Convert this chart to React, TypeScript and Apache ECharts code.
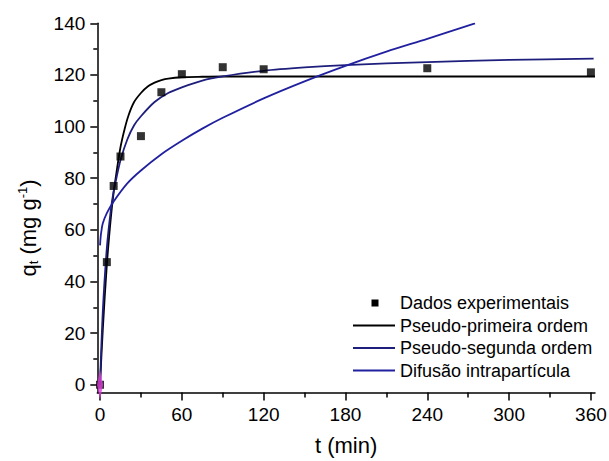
import React, { useEffect, useRef } from "react";
import * as echarts from "echarts";

// Experimental data (t in min, q in mg/g)
const expT = [0, 5, 10, 15, 30, 45, 60, 90, 120, 240, 360];
const expQ = [0, 47.5, 77, 88.4, 96.3, 113.3, 120.3, 123, 122.2, 122.6, 121];

// Pseudo-first order curve
const pfoT = [0, 2, 5, 8, 10, 12, 15, 18, 21, 25, 30, 35, 40, 45, 50, 60, 75, 90, 120, 240, 363];
const pfoQ = [0, 21, 46.5, 65, 74.5, 82, 92, 99, 104.5, 109.5, 113, 115.5, 117, 118, 118.6, 119.1, 119.3, 119.4, 119.4, 119.4, 119.4];

// Pseudo-second order curve
const psoT = [0, 2, 5, 8, 10, 12, 15, 20, 25, 30, 40, 50, 60, 75, 90, 120, 150, 180, 240, 300, 362];
const psoQ = [0, 28, 53, 68, 75, 80, 87, 95, 100.5, 104, 109.5, 113, 115.2, 117.8, 119.4, 121.6, 122.9, 123.8, 125, 125.8, 126.3];

// Intraparticle diffusion curve
const difT = [0, 0.5, 1, 2, 5, 10, 20, 30, 45, 60, 75, 90, 120, 150, 180, 210, 240, 275];
const difQ = [54, 57.5, 59.5, 62.5, 66.5, 71, 78, 83, 89.3, 94.5, 99.2, 103.4, 110.9, 117.5, 123.5, 129, 134, 140];

// Extra marker at origin
const originT = [0];
const originQ = [0];

// Axis ticks
const xMajor = [0, 60, 120, 180, 240, 300, 360];
const xMinor = [30, 90, 150, 210, 270, 330];
const yMajor = [0, 20, 40, 60, 80, 100, 120, 140];
const yMinor = [10, 30, 50, 70, 90, 110, 130];

const legendNames = [
  "Dados experimentais",
  "Pseudo-primeira ordem",
  "Pseudo-segunda ordem",
  "Difusão intrapartícula",
];

const FONT = "'Liberation Sans', Arial, Helvetica, sans-serif";
const C_BLACK = "#000000";
const C_PSO = "#1e1e7c";
const C_DIF = "#2121a0";

const zip = (a: number[], b: number[]) => a.map((v, i) => [v, b[i]]);

export default function App() {
  const ref = useRef<HTMLDivElement>(null);
  useEffect(() => {
    if (!ref.current) return;
    const chart = echarts.init(ref.current, undefined, { renderer: "svg" });
    const lx0 = 353, lx1 = 395, tx = 400;
    const rows = [303, 325.5, 348, 370.5];
    const legendColors = [C_BLACK, C_BLACK, C_PSO, C_DIF];
    const graphic: any[] = [];
    graphic.push({
      type: "rect",
      shape: { x: 375 - 3.5, y: rows[0] - 3.5, width: 7, height: 7 },
      style: { fill: C_BLACK },
    });
    for (let i = 1; i < 4; i++) {
      graphic.push({
        type: "line",
        shape: { x1: lx0, y1: rows[i], x2: lx1, y2: rows[i] },
        style: { stroke: legendColors[i], lineWidth: 1.8 },
      });
    }
    legendNames.forEach((n, i) => {
      graphic.push({
        type: "text",
        x: tx,
        y: rows[i],
        style: {
          text: n,
          fill: "#000",
          fontSize: 18,
          fontFamily: FONT,
          verticalAlign: "middle",
          align: "left",
        },
      });
    });
    graphic.push({
      type: "text",
      x: 28,
      y: 228,
      rotation: Math.PI / 2,
      style: {
        text: "{n|q}{sub|t}{n| (mg g}{sup|-1}{n|)}",
        align: "center",
        verticalAlign: "middle",
        fill: "#000",
        fontFamily: FONT,
        fontSize: 22,
        rich: {
          n: { fontSize: 22, fontFamily: FONT, lineHeight: 28, verticalAlign: "middle" },
          sub: { fontSize: 13, fontFamily: FONT, lineHeight: 28, verticalAlign: "bottom", padding: [0, 0, 2, 0] },
          sup: { fontSize: 13, fontFamily: FONT, lineHeight: 28, verticalAlign: "top", padding: [2, 0, 0, 0] },
        },
      },
    });

    const axisLineStyle = { color: "#000", width: 1.5 };
    chart.setOption({
      animation: false,
      backgroundColor: "#fff",
      textStyle: { fontFamily: FONT },
      grid: {
        left: 97.3,
        right: 14,
        top: 23.3,
        bottom: 68.5,
        containLabel: false,
        outerBoundsMode: "none",
      },
      xAxis: [
        {
          type: "value",
          min: -2,
          max: 363,
          position: "bottom",
          name: "t (min)",
          nameLocation: "middle",
          nameGap: 42,
          nameTextStyle: { fontSize: 22, color: "#000", fontFamily: FONT },
          axisLine: { show: true, onZero: false, lineStyle: axisLineStyle },
          axisTick: { show: true, inside: false, length: 8, customValues: xMajor, lineStyle: axisLineStyle },
          axisLabel: { show: true, customValues: xMajor, margin: 12, fontSize: 19, color: "#000", fontFamily: FONT },
          splitLine: { show: false },
        },
        {
          type: "value",
          min: -2,
          max: 363,
          position: "bottom",
          offset: 0,
          axisLine: { show: false, onZero: false },
          axisTick: { show: true, inside: false, length: 5, customValues: xMinor, lineStyle: axisLineStyle },
          axisLabel: { show: false },
          splitLine: { show: false },
        },
      ],
      yAxis: [
        {
          type: "value",
          min: -3,
          max: 140,
          position: "left",
          axisLine: { show: true, onZero: false, lineStyle: axisLineStyle },
          axisTick: { show: true, inside: false, length: 7, customValues: yMajor, lineStyle: axisLineStyle },
          axisLabel: { show: true, customValues: yMajor, margin: 12, fontSize: 19, color: "#000", fontFamily: FONT },
          splitLine: { show: false },
        },
        {
          type: "value",
          min: -3,
          max: 140,
          position: "left",
          offset: 0,
          axisLine: { show: false, onZero: false },
          axisTick: { show: true, inside: false, length: 4, customValues: yMinor, lineStyle: axisLineStyle },
          axisLabel: { show: false },
          splitLine: { show: false },
        },
      ],
      series: [
        {
          name: legendNames[1],
          type: "line",
          data: zip(pfoT, pfoQ),
          smooth: 0.3,
          showSymbol: false,
          lineStyle: { color: C_BLACK, width: 1.8 },
          z: 3,
        },
        {
          name: legendNames[2],
          type: "line",
          data: zip(psoT, psoQ),
          smooth: 0.3,
          showSymbol: false,
          lineStyle: { color: C_PSO, width: 1.8 },
          z: 3,
        },
        {
          name: legendNames[3],
          type: "line",
          data: zip(difT, difQ),
          smooth: 0.3,
          showSymbol: false,
          lineStyle: { color: C_DIF, width: 1.8 },
          z: 3,
        },
        {
          name: legendNames[0],
          type: "scatter",
          data: zip(expT, expQ),
          symbol: "rect",
          symbolSize: 8,
          itemStyle: { color: C_BLACK },
          clip: false,
          z: 4,
        },
        {
          name: "origin",
          type: "scatter",
          data: zip(originT, originQ),
          symbol: "diamond",
          symbolSize: [6, 30],
          itemStyle: { color: "#e040e0" },
          clip: false,
          z: 10,
        },
      ],
      graphic,
    });
    return () => chart.dispose();
  }, []);
  return (
    <div
      ref={ref}
      style={{ position: "absolute", left: 0, top: 0, width: 609, height: 461, background: "#fff" }}
    />
  );
}
